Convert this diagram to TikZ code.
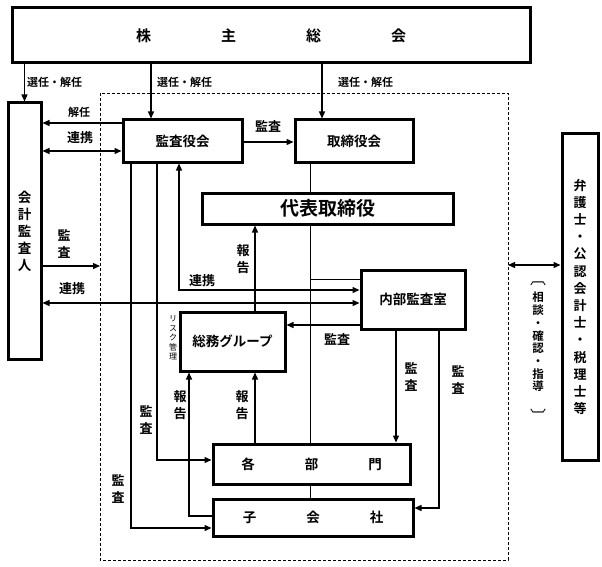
\documentclass[tikz,border=0pt]{standalone}
\usepackage{fontspec}
\setmainfont{Noto Sans CJK JP}[BoldFont={Noto Sans CJK JP Bold}]
\usetikzlibrary{arrows.meta}

\tikzset{
	orgbox/.style={draw, line width=3pt, inner sep=0pt, font=\bfseries\fontsize{13.5}{17}\selectfont},
	link/.style={line width=1.3pt},
	thin/.style={line width=0.8pt},
	arr/.style={-{Triangle[length=7pt,width=6pt]}},
	darr/.style={{Triangle[length=7pt,width=6pt]}-{Triangle[length=7pt,width=6pt]}},
	lbl/.style={inner sep=0pt, align=center, font=\bfseries\fontsize{13}{17}\selectfont},
	small/.style={inner sep=0pt, align=center, font=\bfseries\fontsize{11}{12}\selectfont},
}

\begin{document}
\begin{tikzpicture}[x=1pt, y=-1pt]
	\useasboundingbox (0,0) rectangle (602,567);

	% Group border (dashed)
	\draw[dashed, dash pattern=on 3pt off 2pt, line width=0.8pt] (100,93) rectangle (508,560);

	% Boxes
	% shareholders meeting (AGM), accounting auditor (AUD), auditors board (ASB),
	% board of directors (BOD), representative director (REP), internal audit (IAO),
	% general affairs (GAG), departments (DEP), subsidiaries (SUB), advisers (ADV)
	\node[orgbox, minimum width=518pt, minimum height=55pt, font=\bfseries\fontsize{15}{18}\selectfont] (AGM) at (271,35.5) {株\hspace{70pt}主\hspace{70pt}総\hspace{70pt}会};
	\node[orgbox, minimum width=33pt, minimum height=256pt, align=center] (AUD) at (24.5,231) {会\\計\\監\\査\\人};
	\node[orgbox, minimum width=119pt, minimum height=42pt] (ASB) at (182.5,141) {監査役会};
	\node[orgbox, minimum width=118pt, minimum height=42pt] (BOD) at (354,141) {取締役会};
	\node[orgbox, minimum width=251pt, minimum height=31pt, font=\bfseries\fontsize{19}{22}\selectfont] (REP) at (327.5,208.5) {代表取締役};
	\node[orgbox, minimum width=104pt, minimum height=59pt] (IAO) at (413,299.5) {内部監査室};
	\node[orgbox, minimum width=105pt, minimum height=59pt] (GAG) at (232.5,341.5) {総務グループ};
	\node[orgbox, minimum width=197pt, minimum height=40pt] (DEP) at (311.5,464) {各\hspace{50pt}部\hspace{50pt}門};
	\node[orgbox, minimum width=200pt, minimum height=37pt] (SUB) at (313,517.5) {子\hspace{50pt}会\hspace{50pt}社};
	\node[orgbox, minimum width=36pt, minimum height=326pt, align=center, font=\bfseries\fontsize{13}{17.2}\selectfont] (ADV) at (580,297) {弁\\護\\士\\・\\公\\認\\会\\計\\士\\・\\税\\理\\士\\等};

	% Points on the dashed border
	\coordinate (DL) at (100,266);
	\coordinate (DR) at (508,265);

	% Election and dismissal
	\draw[link, arr] (AGM.south -| AUD.north) -- (AUD.north);
	\draw[link, arr] (AGM.south -| 151,0) -- (ASB.north -| 151,0);
	\draw[link, arr] (AGM.south -| 322,0) -- (BOD.north -| 322,0);
	\node[small, anchor=west] (e1) at (27,82) {選任・解任};
	\node[small, anchor=west] (e2) at (157,82) {選任・解任};
	\node[small, anchor=west] (e3) at (338,82) {選任・解任};

	% Auditors board links
	\draw[link, arr] (ASB.west |- 0,123) -- (AUD.east |- 0,123);
	\node[small] (e4) at (79,112) {解任};
	\draw[link, darr] (AUD.east |- 0,151) -- (ASB.west |- 0,151);
	\node[lbl] (e5) at (80,138) {連携};
	\draw[link, arr] (ASB.east |- 0,142) -- (BOD.west |- 0,142);
	\node[lbl] (e6) at (268,126) {監査};
	\draw[link, arr] (ASB.south -| 157,0) |- (DEP.west |- 0,460);
	\node[lbl] (e7) at (146,420) {監\\査};
	\draw[link, arr] (ASB.south -| 131,0) |- (SUB.west |- 0,528);
	\node[lbl] (e8) at (118,489) {監\\査};
	\draw[link, darr] (ASB.south -| 179,0) |- (IAO.west |- 0,290);
	\node[lbl] (e9) at (202,281) {連携};

	% Accounting auditor links
	\draw[link, arr] (AUD.east |- DL) -- (DL);
	\node[lbl] (e10) at (64,244) {監\\査};
	\draw[link, darr] (AUD.east |- 0,303) -- (IAO.west |- 0,303);
	\node[lbl] (e11) at (72,289) {連携};

	% Line of command
	\draw[thin] (BOD.south -| 310,0) -- (REP.north -| 310,0);
	\draw[thin] (REP.south -| 310,0) -- (DEP.north -| 310,0);
	\draw[thin] (DEP.south -| 310,0) -- (SUB.north -| 310,0);
	\draw[thin] (310,279) -- (IAO.west |- 0,279);

	% Reports
	\draw[link, arr] (GAG.north -| 255,0) -- (REP.south -| 255,0);
	\node[lbl] (e12) at (243,259) {報\\告};
	\draw[link, arr] (DEP.north -| 255,0) -- (GAG.south -| 255,0);
	\node[lbl] (e13) at (242,405) {報\\告};
	\draw[link, arr] (SUB.west |- 0,516) -| (GAG.south -| 189,0);
	\node[lbl] (e14) at (180,405) {報\\告};
	\node[inner sep=0pt, align=center, font=\fontsize{8}{9.5}\selectfont] (risk) at (173,338) {リ\\ス\\ク\\管\\理};

	% Internal audit
	\draw[link, arr] (IAO.west |- 0,325) -- (GAG.east |- 0,325);
	\node[lbl] (e15) at (337,339) {監査};
	\draw[link, arr] (IAO.south -| 396,0) -- (DEP.north -| 396,0);
	\node[lbl] (e16) at (411,377) {監\\査};
	\draw[link, arr] (IAO.south -| 439,0) |- (SUB.east |- 0,508);
	\node[lbl] (e17) at (458,380) {監\\査};

	% Outside advisers
	\draw[link, darr] (DR) -- (ADV.west |- DR);
	\node[inner sep=0pt, align=center, font=\bfseries\fontsize{11.5}{12.7}\selectfont] (adv) at (538,342) {相\\談\\・\\確\\認\\・\\指\\導};
	\node[inner sep=0pt, font=\fontsize{16}{16}\selectfont] (b1) at (538,284) {︹};
	\node[inner sep=0pt, font=\fontsize{16}{16}\selectfont] (b2) at (538,416) {︺};
\end{tikzpicture}
\end{document}
